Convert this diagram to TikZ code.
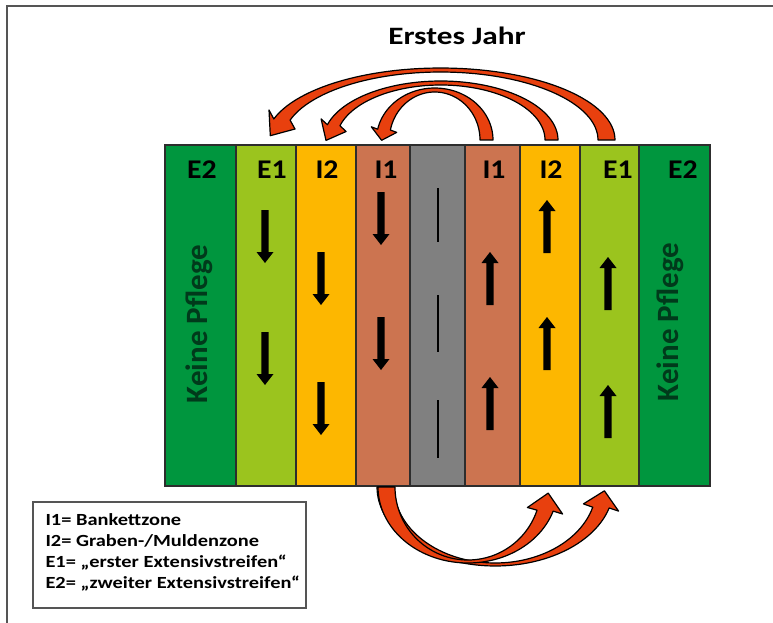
\documentclass[tikz,border=0pt]{standalone}
\usepackage{fontspec}
\setmainfont{Carlito}
\newfontfamily\wide{Carlito}[FakeStretch=1.25]
\newfontfamily\midwide{Carlito}[FakeStretch=1.2]
\newfontfamily\lblwide{Carlito}[FakeStretch=1.1]
\definecolor{cEtwo}{RGB}{0,150,62}
\definecolor{cEone}{RGB}{155,196,30}
\definecolor{cItwo}{RGB}{253,183,0}
\definecolor{cIone}{RGB}{204,116,80}
\definecolor{cRoad}{RGB}{128,128,128}
\definecolor{txtgreen}{RGB}{0,58,27}
\definecolor{arrred}{RGB}{232,64,14}
\definecolor{framegray}{RGB}{85,85,85}
\definecolor{stripline}{RGB}{45,45,45}
\tikzset{
  stripbox/.style={draw=stripline, line width=1.3pt},
  zonelabel/.style={anchor=base, font=\lblwide\bfseries\fontsize{27}{30}\selectfont},
  pflege/.style={rotate=90, anchor=base, text=txtgreen, font=\bfseries\fontsize{31}{34}\selectfont},
  redarr/.style={fill=arrred, draw=black, line width=1.2pt, line join=round},
  legendtxt/.style={anchor=base west, font=\midwide\bfseries\fontsize{17}{19}\selectfont},
  dnarrow/.pic={\fill[black] (-3.7,0) -- (3.7,0) -- (3.7,42) -- (8.5,42) -- (0,53) -- (-8.5,42) -- (-3.7,42) -- cycle;},
  uparrow/.pic={\fill[black] (-3.7,0) -- (3.7,0) -- (3.7,-42) -- (8.5,-42) -- (0,-53) -- (-8.5,-42) -- (-3.7,-42) -- cycle;}
}
\begin{document}
\begin{tikzpicture}[x=1pt,y=-1pt]
\useasboundingbox (0,0) rectangle (773,623);
\fill[white] (0,0) rectangle (773,623);
% frame (left and top edges visible)
\draw[framegray, line width=2pt] (7,623) -- (7,6) -- (773,6);

% title
\node[anchor=base, font=\wide\bfseries\fontsize{25}{28}\selectfont] (title) at (457,45) {Erstes Jahr};

% strips
\foreach \a/\b/\c in {165/236/cEtwo, 236/296/cEone, 296/356/cItwo, 356/410/cIone, 410/465/cRoad, 465/520/cIone, 520/580/cItwo, 580/639/cEone, 639/710/cEtwo}
  \filldraw[stripbox, fill=\c] (\a,145) rectangle (\b,486);
\draw[stripline, line width=1.8pt] (165,145) rectangle (710,486);

% road dashes
\foreach \s/\e in {188/242, 295/352, 400/458}
  \draw[black, line width=2pt] (438,\s) -- (438,\e);

% zone labels
\node[zonelabel] (lE2) at (202,178) {E2};
\node[zonelabel] (lE1) at (272,178) {E1};
\node[zonelabel] (lI2) at (327,178) {I2};
\node[zonelabel] (lI1) at (386,178) {I1};
\node[zonelabel] (rI1) at (494,178) {I1};
\node[zonelabel] (rI2) at (551,178) {I2};
\node[zonelabel] (rE1) at (618,178) {E1};
\node[zonelabel] (rE2) at (683,178) {E2};

% Keine Pflege
\node[pflege] (kpL) at (207,324) {Keine Pflege};
\node[pflege] (kpR) at (678,322) {Keine Pflege};

% black direction arrows
\pic at (265,210) {dnarrow};
\pic at (265,332) {dnarrow};
\pic at (321,252) {dnarrow};
\pic at (321,382) {dnarrow};
\pic at (381,192) {dnarrow};
\pic at (381,317) {dnarrow};
\pic at (490,305) {uparrow};
\pic at (490,430) {uparrow};
\pic at (547,253) {uparrow};
\pic at (547,370) {uparrow};
\pic at (608,310) {uparrow};
\pic at (608,438) {uparrow};

% top curved arrows
\filldraw[redarr] plot[domain=0:163, samples=60] ({440.6+174.4*cos(\x)},{140-72*sin(\x)})
  -- (269,110) -- (270.3,135.7) -- (295,129)
  -- plot[domain=163:0, samples=60] ({440.6+157.4*cos(\x)},{140-68*sin(\x)}) -- cycle;
\filldraw[redarr] plot[domain=0:165, samples=60] ({440.7+117.3*cos(\x)},{140-59*sin(\x)})
  -- (321.1,118.9) -- (326,140.4) -- (346.1,131.5)
  -- plot[domain=165:0, samples=60] ({440.7+104.3*cos(\x)},{140-55*sin(\x)}) -- cycle;
\filldraw[redarr] plot[domain=0:168, samples=60] ({434.7+58.3*cos(\x)},{140-52*sin(\x)})
  -- (371.3,126.8) -- (381.6,140.3) -- (396.7,132.4)
  -- plot[domain=168:0, samples=60] ({434.7+45.3*cos(\x)},{140-48*sin(\x)}) -- cycle;

% bottom curved arrows
\filldraw[redarr] plot[domain=180:15.4, samples=60] ({495.2+118.2*cos(\x)},{487+79*sin(\x)})
  -- (618.6,511.1) -- (604.4,490.8) -- (583.4,503.9)
  -- plot[domain=15.4:180, samples=60] ({495.2+101.2*cos(\x)},{487+76*sin(\x)}) -- cycle;
\filldraw[redarr] plot[domain=180:18.5, samples=60] ({467.9+89.9*cos(\x)},{487+76*sin(\x)})
  -- (562.6,514.0) -- (548.2,493.1) -- (527.4,507.5)
  -- plot[domain=18.5:180, samples=60] ({467.9+72.9*cos(\x)},{487+73*sin(\x)}) -- cycle;

% legend
\draw[framegray, line width=1.5pt, fill=white] (33,502) rectangle (306,608);
\node[legendtxt] (leg1) at (42,525) {I1= Bankettzone};
\node[legendtxt] (leg2) at (42,546) {I2= Graben-/Muldenzone};
\node[legendtxt] (leg3) at (42,567) {E1= „erster Extensivstreifen“};
\node[legendtxt] (leg4) at (42,588) {E2= „zweiter Extensivstreifen“};
\end{tikzpicture}
\end{document}
